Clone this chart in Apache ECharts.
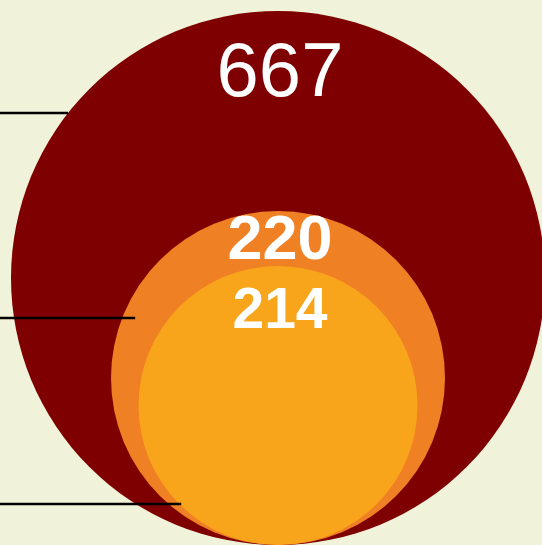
<!DOCTYPE html>
<html>
<head>
<meta charset="utf-8">
<style>
  html, body { margin: 0; padding: 0; background: #f0f3da; }
  #main { width: 542px; height: 545px; }
</style>
<script src="https://cdn.jsdelivr.net/npm/echarts@6/dist/echarts.min.js"></script>
</head>
<body>
<div id="main"></div>
<script>
// values shown in each bubble, outer to inner
var values = [667, 220, 214];
// bubble radius, in axis units
var bubbleRadius = [267, 167, 139.5];

var colors = ['#7f0000', '#f08024', '#f9a51b'];
// label look and where it sits below the bubble top
var labelStyle = [
  { size: 76, weight: 'normal', offset: 64 },
  { size: 63, weight: 'bold', offset: 31 },
  { size: 57, weight: 'bold', offset: 46 }
];
// leader line: vertical offset from bubble centre, inset from the edge
var leaders = [
  { dy: -165, inset: 0 },
  { dy: -60, inset: 13 },
  { dy: 98.5, inset: 2 }
];

var seriesData = values.map(function (v, i) {
  return [v, bubbleRadius[i]];
});

var myChart = echarts.init(document.getElementById('main'));
var option = {
  backgroundColor: '#f0f3da',
  animation: false,
  grid: { left: 0, right: 0, top: 0, bottom: 0 },
  xAxis: { type: 'value', min: -278, max: 264, show: false },
  yAxis: { type: 'value', min: 0, max: 545, show: false },
  series: [{
    type: 'custom',
    coordinateSystem: 'cartesian2d',
    data: seriesData,
    renderItem: function (params, api) {
      var i = params.dataIndex;
      var r = api.value(1);
      // bubbles sit on the baseline (y = 0), centred on x = 0
      var c = api.coord([0, r]);
      var rp = api.size([r, r])[0];
      var ls = labelStyle[i];
      var ld = leaders[i];
      var ly = c[1] + ld.dy;
      var lx = c[0] - Math.sqrt(rp * rp - ld.dy * ld.dy) + ld.inset;
      return {
        type: 'group',
        children: [
          {
            type: 'circle',
            shape: { cx: c[0], cy: c[1], r: rp },
            style: { fill: colors[i] }
          },
          {
            type: 'text',
            z2: 10,
            style: {
              x: c[0] + 2,
              y: c[1] - rp + ls.offset,
              text: String(api.value(0)),
              fill: '#ffffff',
              font: ls.weight + ' ' + ls.size + 'px "Liberation Sans", Arial, sans-serif',
              align: 'center',
              verticalAlign: 'middle'
            }
          },
          {
            type: 'line',
            z2: 20,
            shape: { x1: 0, y1: ly, x2: lx, y2: ly },
            style: { stroke: '#000000', lineWidth: 2.5 }
          }
        ]
      };
    }
  }]
};
myChart.setOption(option);
</script>
</body>
</html>
